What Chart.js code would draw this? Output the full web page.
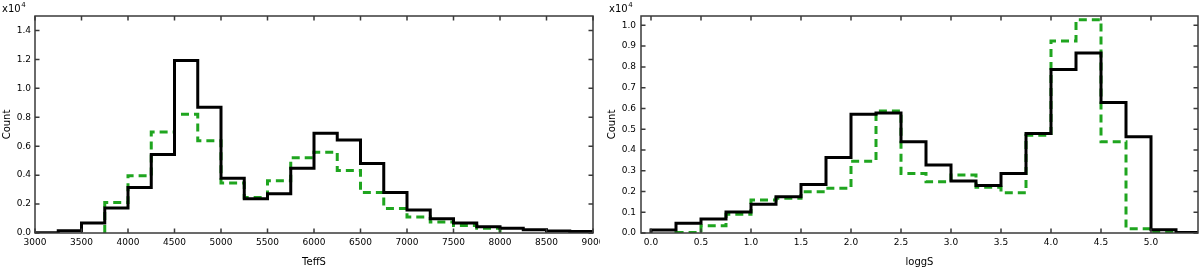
<!DOCTYPE html>
<html>
<head>
<meta charset="utf-8">
<script src="https://cdn.jsdelivr.net/npm/chart.js@4"></script>
<style>
  html, body { margin: 0; padding: 0; background: #fff; }
  body { width: 1200px; height: 269px; position: relative; overflow: hidden; }
  canvas { position: absolute; top: 0; }
  #c1 { left: 0; }
  #c2 { left: 600px; }
</style>
</head>
<body>
<canvas id="c1" width="600" height="269"></canvas>
<canvas id="c2" width="600" height="269"></canvas>
<script>
// ---------- data ----------
const teffBinWidth = 250;
const teffBins = [3000, 3250, 3500, 3750, 4000, 4250, 4500, 4750, 5000, 5250, 5500, 5750,
                  6000, 6250, 6500, 6750, 7000, 7250, 7500, 7750, 8000, 8250, 8500, 8750];
const teffBlack = [20, 150, 690, 1720, 3150, 5420, 11930, 8690, 3790, 2370, 2710, 4480,
                   6900, 6430, 4800, 2800, 1590, 990, 690, 430, 320, 230, 140, 100];
const teffGreen = [null, null, null, 2110, 3950, 6990, 8210, 6370, 3450, 2450, 3610, 5210,
                   5590, 4320, 2800, 1700, 1100, 760, 520, 320, null, null, null, null];

const loggBinWidth = 0.25;
const loggBins = [0.0, 0.25, 0.5, 0.75, 1.0, 1.25, 1.5, 1.75, 2.0, 2.25, 2.5, 2.75,
                  3.0, 3.25, 3.5, 3.75, 4.0, 4.25, 4.5, 4.75, 5.0, 5.25];
const loggBlack = [140, 470, 670, 1010, 1380, 1750, 2340, 3640, 5720, 5780, 4390, 3270,
                   2510, 2290, 2870, 4790, 7870, 8670, 6280, 4630, 160, 30];
const loggGreen = [null, 20, 350, 900, 1590, 1670, 1990, 2150, 3460, 5880, 2870, 2470,
                   2790, 2200, 1940, 4710, 9250, 10270, 4390, 200, 30, null];

// tick values / axis ranges
const teffXTicks = [3000, 3500, 4000, 4500, 5000, 5500, 6000, 6500, 7000, 7500, 8000, 8500, 9000];
const teffYTicks = [0, 2000, 4000, 6000, 8000, 10000, 12000, 14000];
const loggXTicks = [0.0, 0.5, 1.0, 1.5, 2.0, 2.5, 3.0, 3.5, 4.0, 4.5, 5.0];
const loggYTicks = [0, 1000, 2000, 3000, 4000, 5000, 6000, 7000, 8000, 9000, 10000];
const teffXRange = [3000, 9000];
const teffYRange = [0, 15000];
const loggXRange = [-0.1, 5.47];
const loggYRange = [0, 10450];

// ---------- helpers ----------
function histPoints(edges, counts, width) {
  const pts = [];
  let open = false;
  for (let i = 0; i < edges.length; i++) {
    const c = counts[i];
    if (c === null || c === undefined) {
      if (open) { pts.push({ x: edges[i], y: 0 }); open = false; }
      continue;
    }
    if (!open) { pts.push({ x: edges[i], y: 0 }); open = true; }
    pts.push({ x: edges[i], y: c });
  }
  if (open) pts.push({ x: edges[edges.length - 1] + width, y: 0 });
  return pts;
}

const FONT = '"DejaVu Sans", "Liberation Sans", sans-serif';

const framePlugin = {
  id: 'frame',
  afterDraw(chart, args, opts) {
    const { ctx, chartArea: a } = chart;
    const x = chart.scales.x, y = chart.scales.y;
    ctx.save();
    ctx.strokeStyle = '#3a3a3a';
    ctx.lineWidth = 1.5;
    ctx.strokeRect(a.left, a.top, a.right - a.left, a.bottom - a.top);
    const tl = 4.5;
    ctx.beginPath();
    x.ticks.forEach(t => {
      const px = x.getPixelForValue(t.value);
      if (px < a.left - 0.5 || px > a.right + 0.5) return;
      ctx.moveTo(px, a.bottom); ctx.lineTo(px, a.bottom - tl);
      ctx.moveTo(px, a.top); ctx.lineTo(px, a.top + tl);
    });
    y.ticks.forEach(t => {
      const py = y.getPixelForValue(t.value);
      if (py < a.top - 0.5 || py > a.bottom + 0.5) return;
      ctx.moveTo(a.left, py); ctx.lineTo(a.left + tl, py);
      ctx.moveTo(a.right, py); ctx.lineTo(a.right - tl, py);
    });
    ctx.stroke();
    // exponent label
    ctx.fillStyle = '#000';
    ctx.textBaseline = 'alphabetic';
    ctx.textAlign = 'left';
    ctx.font = '10px ' + FONT;
    ctx.fillText('x10', opts.labelX, 12);
    const w = ctx.measureText('x10').width;
    ctx.font = '7px ' + FONT;
    ctx.fillText('4', opts.labelX + w + 0.5, 6.5);
    ctx.restore();
  }
};

function makeChart(id, cfg) {
  const ds = [
    {
      label: 'all',
      data: histPoints(cfg.bins, cfg.black, cfg.width),
      borderColor: '#000000',
      borderWidth: 3,
      stepped: 'before',
      pointRadius: 0,
      fill: false,
      order: 0
    },
    {
      label: 'sub',
      data: histPoints(cfg.bins, cfg.green, cfg.width),
      borderColor: '#1fa51f',
      borderWidth: 3,
      borderDash: [8, 5],
      stepped: 'before',
      pointRadius: 0,
      fill: false,
      order: 1
    }
  ];
  return new Chart(document.getElementById(id), {
    type: 'line',
    data: { datasets: ds },
    plugins: [framePlugin],
    options: {
      responsive: false,
      animation: false,
      devicePixelRatio: 1,
      layout: { padding: { left: 0, right: cfg.padRight, top: 16, bottom: 1 } },
      plugins: {
        legend: { display: false },
        tooltip: { enabled: false },
        frame: { labelX: cfg.labelX }
      },
      scales: {
        x: {
          type: 'linear',
          min: cfg.xr[0], max: cfg.xr[1],
          grid: { display: false, drawTicks: false },
          border: { display: false },
          afterBuildTicks(s) { s.ticks = cfg.xticks.map(v => ({ value: v })); },
          ticks: {
            autoSkip: false,
            maxRotation: 0,
            padding: 4,
            color: '#000',
            font: { family: FONT, size: 9 },
            callback: cfg.xfmt
          },
          title: {
            display: true, text: cfg.xtitle, color: '#000',
            font: { family: FONT, size: 10 },
            padding: { top: 0, bottom: 0 }
          },
          afterFit(s) { s.height = 35; s.paddingLeft = 0; s.paddingRight = 0; }
        },
        y: {
          type: 'linear',
          min: cfg.yr[0], max: cfg.yr[1],
          grid: { display: false, drawTicks: false },
          border: { display: false },
          afterBuildTicks(s) { s.ticks = cfg.yticks.map(v => ({ value: v })); },
          ticks: {
            autoSkip: false,
            padding: cfg.yPad,
            color: '#000',
            font: { family: FONT, size: 9 },
            callback: v => (v / 10000).toFixed(1)
          },
          title: {
            display: true, text: 'Count', color: '#000',
            font: { family: FONT, size: 10 },
            padding: { top: cfg.yTitlePad, bottom: 0 }
          },
          afterFit(s) { s.width = cfg.yWidth; s.paddingTop = 0; s.paddingBottom = 0; }
        }
      }
    }
  });
}

makeChart('c1', {
  bins: teffBins, black: teffBlack, green: teffGreen, width: teffBinWidth,
  xr: teffXRange, yr: teffYRange, xticks: teffXTicks, yticks: teffYTicks, xtitle: 'TeffS',
  xfmt: v => String(v),
  padRight: 7, yWidth: 35, yPad: 4, yTitlePad: 1, labelX: 2
});
makeChart('c2', {
  bins: loggBins, black: loggBlack, green: loggGreen, width: loggBinWidth,
  xr: loggXRange, yr: loggYRange, xticks: loggXTicks, yticks: loggYTicks, xtitle: 'loggS',
  xfmt: v => Number(v).toFixed(1),
  padRight: 2, yWidth: 41, yPad: 5, yTitlePad: 6, labelX: 9
});
</script>
</body>
</html>
